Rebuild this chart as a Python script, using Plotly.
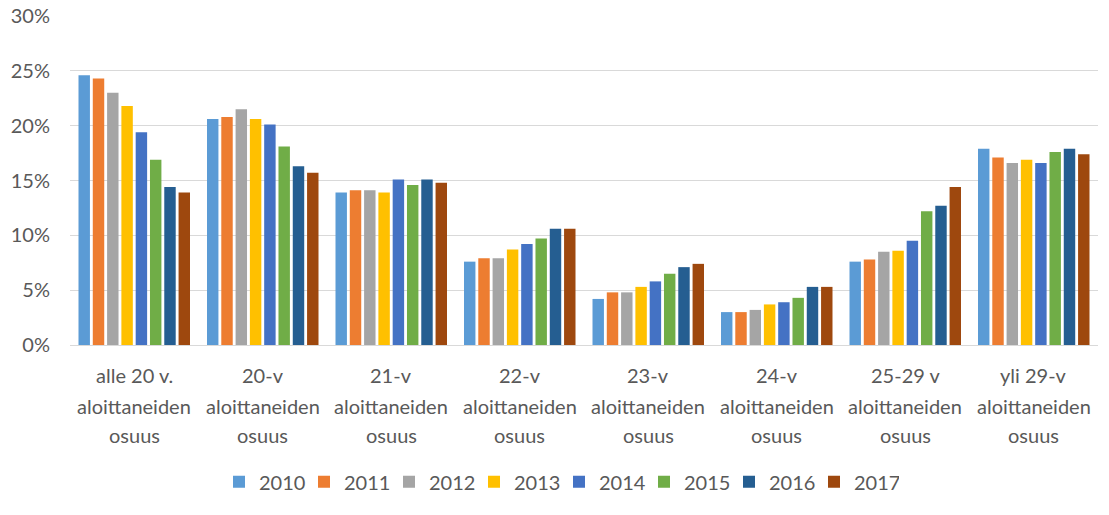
import plotly.graph_objects as go

categories = ["alle 20 v.", "20-v", "21-v", "22-v", "23-v", "24-v", "25-29 v", "yli 29-v"]
label_line2 = "aloittaneiden"
label_line3 = "osuus"
years = ["2010", "2011", "2012", "2013", "2014", "2015", "2016", "2017"]

v2010 = [24.6, 20.6, 13.9, 7.6, 4.2, 3.0, 7.6, 17.9]
v2011 = [24.3, 20.8, 14.1, 7.9, 4.8, 3.0, 7.8, 17.1]
v2012 = [23.0, 21.5, 14.1, 7.9, 4.8, 3.2, 8.5, 16.6]
v2013 = [21.8, 20.6, 13.9, 8.7, 5.3, 3.7, 8.6, 16.9]
v2014 = [19.4, 20.1, 15.1, 9.2, 5.8, 3.9, 9.5, 16.6]
v2015 = [16.9, 18.1, 14.6, 9.7, 6.5, 4.3, 12.2, 17.6]
v2016 = [14.4, 16.3, 15.1, 10.6, 7.1, 5.3, 12.7, 17.9]
v2017 = [13.9, 15.7, 14.8, 10.6, 7.4, 5.3, 14.4, 17.4]
series = [v2010, v2011, v2012, v2013, v2014, v2015, v2016, v2017]

colors = ["#5B9BD5", "#ED7D31", "#A5A5A5", "#FFC000", "#4472C4", "#70AD47", "#255E91", "#9E480E"]

fig = go.Figure()
for y, vals, c in zip(years, series, colors):
    fig.add_trace(go.Bar(
        name=y, x=categories, y=[v / 100 for v in vals],
        marker=dict(color=c, line=dict(width=0)),
    ))

font_family = "Lato, 'Open Sans', sans-serif"
txt_color = "#595959"
fs = 20

# category labels (three lines each), placed under the x axis
annotations = []
for cat in categories:
    for text, shift in ((cat, -30), (label_line2, -61), (label_line3, -90)):
        annotations.append(dict(
            x=cat, xref="x", y=0, yref="paper", yshift=shift,
            text=text, showarrow=False, xanchor="center", yanchor="middle",
            font=dict(family=font_family, size=fs, color=txt_color),
        ))

fig.update_layout(
    width=1109, height=515,
    paper_bgcolor="white", plot_bgcolor="white",
    barmode="group", bargap=0.11, bargroupgap=0.2,
    margin=dict(l=70, r=11, t=16, b=170, autoexpand=False),
    font=dict(family=font_family, size=fs, color=txt_color),
    showlegend=True,
    legend=dict(orientation="h", x=(219 - 70) / 1028, xanchor="left",
                y=-0.416, yanchor="middle",
                font=dict(size=fs, color=txt_color), itemwidth=30,
                entrywidth=40, entrywidthmode="pixels", traceorder="normal"),
    annotations=annotations,
    xaxis=dict(showgrid=False, showline=True, linecolor="#D9D9D9", linewidth=1,
               showticklabels=False, ticks="", automargin=False),
    yaxis=dict(range=[0, 0.30], dtick=0.05, tickformat=".0%", showgrid=True,
               gridcolor="#D9D9D9", gridwidth=1, zeroline=False, showline=False,
               tickfont=dict(size=fs, color=txt_color), ticklen=0, ticks="",
               ticklabelstandoff=19, automargin=False),
)

fig.write_html("out.html", config={"displayModeBar": False},
               post_script="document.body.style.margin='0';")
